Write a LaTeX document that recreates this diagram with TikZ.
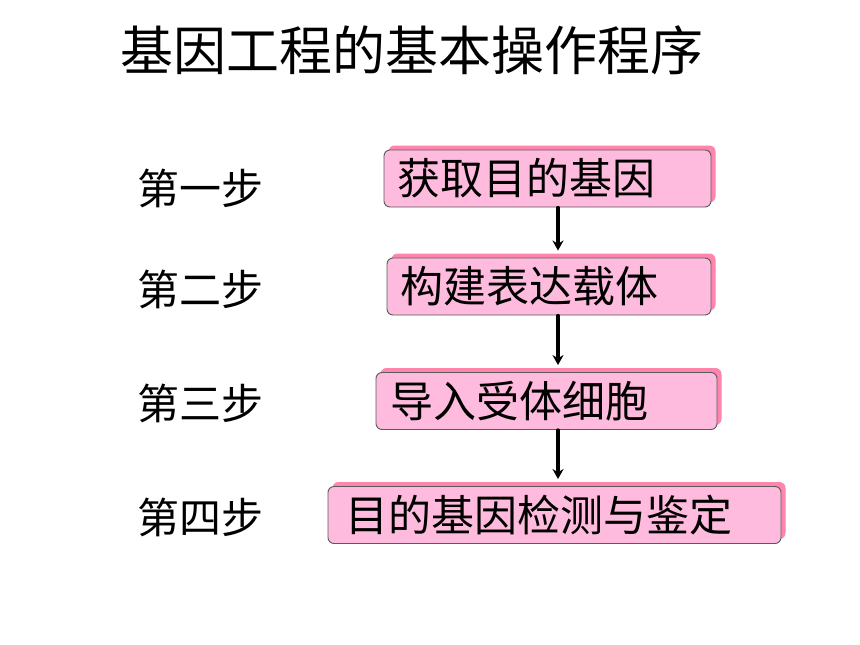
\documentclass[tikz,border=0pt]{standalone}
\usepackage{fontspec}
\setmainfont{Noto Sans CJK SC}
\usetikzlibrary{shadows,arrows.meta}
\definecolor{boxpink}{HTML}{FFBBDD}
\definecolor{shadowpink}{HTML}{FF85AD}
\definecolor{boxline}{HTML}{5A5A5A}
\tikzset{
  stepbox/.style={draw=boxline, fill=boxpink, rounded corners=6pt, line width=0.9pt,
    minimum height=57pt, inner sep=0pt, align=left,
    font=\fontsize{43}{48}\selectfont,
    drop shadow={shadow xshift=4.5pt, shadow yshift=4.5pt, opacity=1, fill=shadowpink}},
  steplabel/.style={anchor=west, inner sep=0pt, font=\fontsize{42}{48}\selectfont},
  steparrow/.style={draw=black, line width=3.2pt, -{Stealth[length=10pt,width=11pt]}, shorten >=7pt}
}
\begin{document}
\begin{tikzpicture}[line cap=round, line join=round, x=1pt, y=-1pt]
                \useasboundingbox[fill=white] (0,0) rectangle (860,645);

                \node[inner sep=0pt, font=\fontsize{53}{58}\selectfont] (title) at (412, 50) {基因工程的基本操作程序};

                \node[stepbox, minimum width=327pt, text width=301pt] (b1) at (547.5, 178.5) {获取目的基因};
                \node[stepbox, minimum width=324pt, text width=298pt] (b2) at (549, 286.5) {构建表达载体};
                \node[stepbox, minimum width=341pt, text width=313pt] (b3) at (546.5, 401) {导入受体细胞};
                \node[stepbox, minimum width=453pt, text width=419pt] (b4) at (554.5, 515) {目的基因检测与鉴定};

                \node[steplabel] (s1) at (137, 188) {第一步};
                \node[steplabel] (s2) at (137, 289) {第二步};
                \node[steplabel] (s3) at (137, 403) {第三步};
                \node[steplabel] (s4) at (137, 517) {第四步};

                \coordinate (ax) at (558, 0);
                \draw[steparrow] (b1.south -| ax) -- (b2.north -| ax);
                \draw[steparrow] (b2.south -| ax) -- (b3.north -| ax);
                \draw[steparrow] (b3.south -| ax) -- (b4.north -| ax);

            \end{tikzpicture}
\end{document}
